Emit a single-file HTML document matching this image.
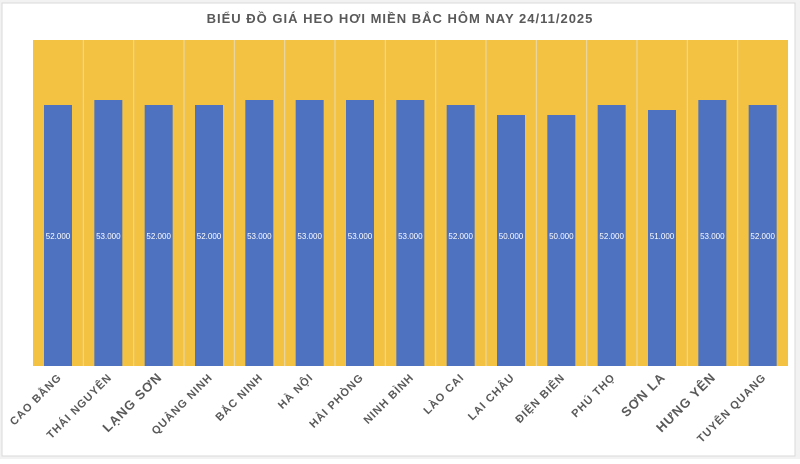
<!DOCTYPE html>
<html><head><meta charset="utf-8"><style>
html,body{margin:0;padding:0;background:#fff;}
.v{font-size:8px;fill:#fff;text-anchor:middle}
.l{font-size:11px;font-weight:bold;fill:#595959;text-anchor:end;letter-spacing:1px}
.b{font-size:13px}
</style></head><body>
<svg width="800" height="459" viewBox="0 0 800 459" xmlns="http://www.w3.org/2000/svg" font-family="Liberation Sans, DejaVu Sans, sans-serif">
<rect x="0" y="0" width="800" height="459" fill="#f2f2f2"/>
<rect x="2" y="3" width="793" height="453" fill="#fff" stroke="#d9d9d9"/>
<text x="400" y="23" text-anchor="middle" font-size="13" font-weight="bold" fill="#595959" letter-spacing="1">BIỂU ĐỒ GIÁ HEO HƠI MIỀN BẮC HÔM NAY 24/11/2025</text>
<rect x="33" y="40" width="755" height="326" fill="#f4c242"/>
<g stroke="#e8d9b0" stroke-width="1">
<line x1="83.33" y1="40" x2="83.33" y2="366"/><line x1="133.67" y1="40" x2="133.67" y2="366"/><line x1="184" y1="40" x2="184" y2="366"/><line x1="234.33" y1="40" x2="234.33" y2="366"/><line x1="284.67" y1="40" x2="284.67" y2="366"/><line x1="335" y1="40" x2="335" y2="366"/><line x1="385.33" y1="40" x2="385.33" y2="366"/><line x1="435.67" y1="40" x2="435.67" y2="366"/><line x1="486" y1="40" x2="486" y2="366"/><line x1="536.33" y1="40" x2="536.33" y2="366"/><line x1="586.67" y1="40" x2="586.67" y2="366"/><line x1="637" y1="40" x2="637" y2="366"/><line x1="687.33" y1="40" x2="687.33" y2="366"/><line x1="737.67" y1="40" x2="737.67" y2="366"/>
</g>
<g fill="#4e71c0">
<rect x="44" y="105" width="28" height="261"/>
<rect x="94.33" y="100" width="28" height="266"/>
<rect x="144.67" y="105" width="28" height="261"/>
<rect x="195" y="105" width="28" height="261"/>
<rect x="245.33" y="100" width="28" height="266"/>
<rect x="295.67" y="100" width="28" height="266"/>
<rect x="346" y="100" width="28" height="266"/>
<rect x="396.33" y="100" width="28" height="266"/>
<rect x="446.67" y="105" width="28" height="261"/>
<rect x="497" y="115" width="28" height="251"/>
<rect x="547.33" y="115" width="28" height="251"/>
<rect x="597.67" y="105" width="28" height="261"/>
<rect x="648" y="110" width="28" height="256"/>
<rect x="698.33" y="100" width="28" height="266"/>
<rect x="748.67" y="105" width="28" height="261"/>
</g>
<text class="v" x="58" y="239">52.000</text>
<text class="v" x="108.33" y="239">53.000</text>
<text class="v" x="158.67" y="239">52.000</text>
<text class="v" x="209" y="239">52.000</text>
<text class="v" x="259.33" y="239">53.000</text>
<text class="v" x="309.67" y="239">53.000</text>
<text class="v" x="360" y="239">53.000</text>
<text class="v" x="410.33" y="239">53.000</text>
<text class="v" x="460.67" y="239">52.000</text>
<text class="v" x="511" y="239">50.000</text>
<text class="v" x="561.33" y="239">50.000</text>
<text class="v" x="611.67" y="239">52.000</text>
<text class="v" x="662" y="239">51.000</text>
<text class="v" x="712.33" y="239">53.000</text>
<text class="v" x="762.67" y="239">52.000</text>
<text class="l" transform="translate(62.2,378) rotate(-45)">CAO BẰNG</text>
<text class="l" transform="translate(112.5,378) rotate(-45)">THÁI NGUYÊN</text>
<text class="l b" transform="translate(162.8,378) rotate(-45)">LẠNG SƠN</text>
<text class="l" transform="translate(213.2,378) rotate(-45)">QUẢNG NINH</text>
<text class="l" transform="translate(263.5,378) rotate(-45)">BẮC NINH</text>
<text class="l" transform="translate(313.8,378) rotate(-45)">HÀ NỘI</text>
<text class="l" transform="translate(364.2,378) rotate(-45)">HẢI PHÒNG</text>
<text class="l" transform="translate(414.5,378) rotate(-45)">NINH BÌNH</text>
<text class="l" transform="translate(464.8,378) rotate(-45)">LÀO CAI</text>
<text class="l" transform="translate(515.2,378) rotate(-45)">LAI CHÂU</text>
<text class="l" transform="translate(565.5,378) rotate(-45)">ĐIỆN BIÊN</text>
<text class="l" transform="translate(615.8,378) rotate(-45)">PHÚ THỌ</text>
<text class="l b" transform="translate(666.2,378) rotate(-45)">SƠN LA</text>
<text class="l b" transform="translate(716.5,378) rotate(-45)">HƯNG YÊN</text>
<text class="l" transform="translate(766.8,378) rotate(-45)">TUYÊN QUANG</text>
</svg>
</body></html>
